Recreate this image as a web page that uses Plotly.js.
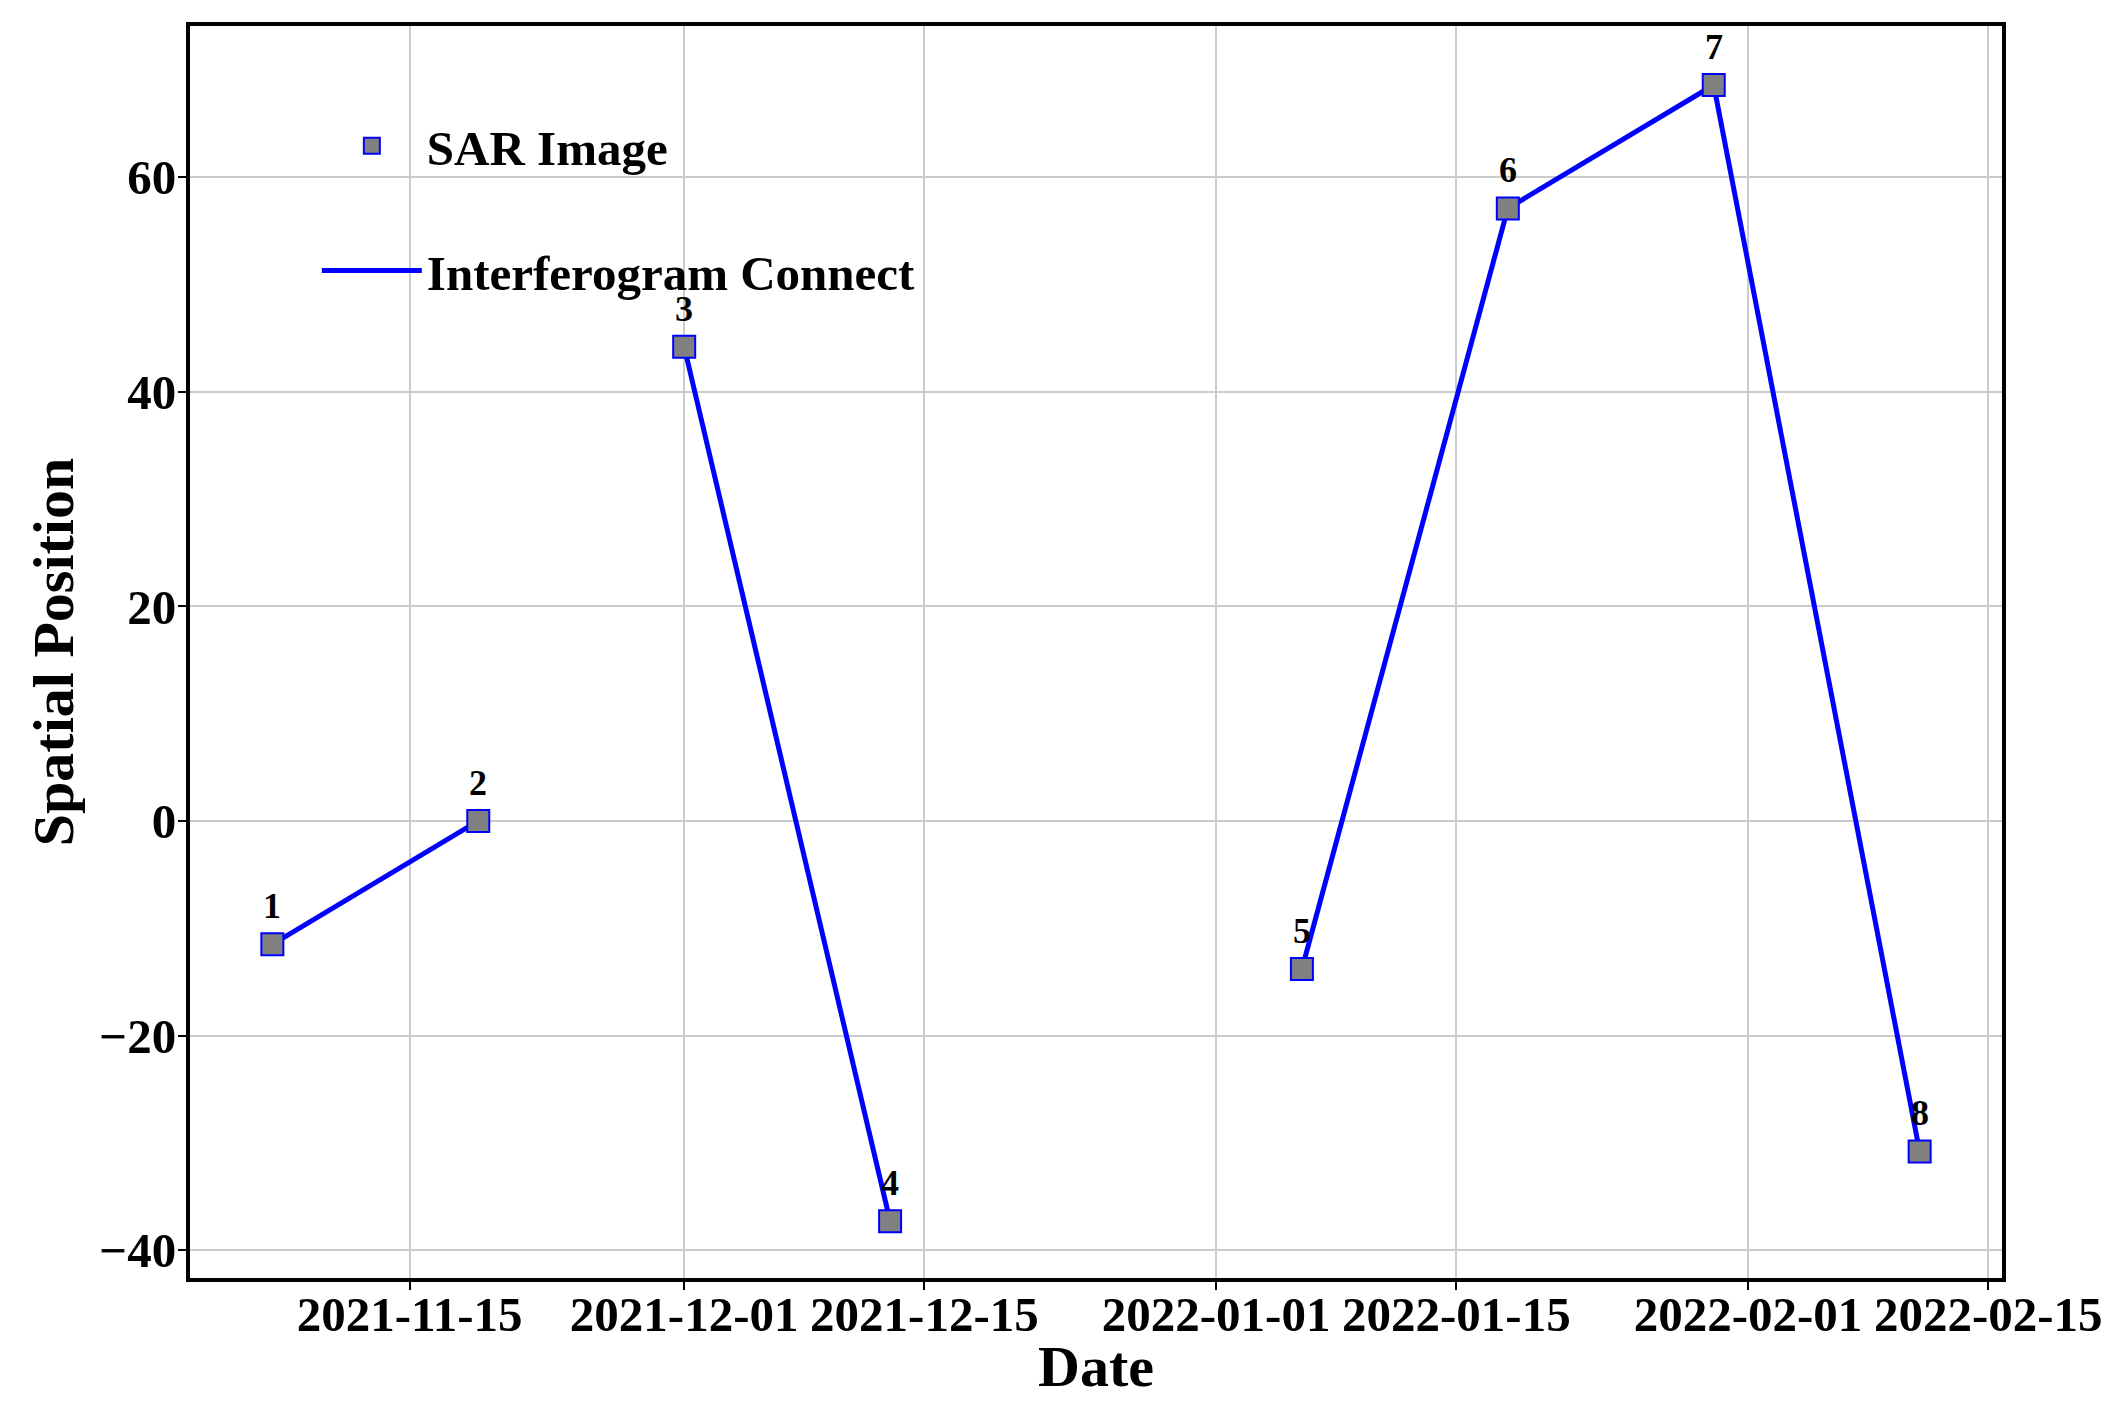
<!DOCTYPE html>
<html><head><meta charset="utf-8">
<script src="https://cdn.plot.ly/plotly-3.0.1.min.js"></script>
<style>html,body{margin:0;padding:0;background:#fff;} #chart{width:2127px;height:1409px;}</style>
</head><body><div id="chart"></div>
<script>
// ---- data ----
const dates = ['2021-11-07','2021-11-19','2021-12-01','2021-12-13','2022-01-06','2022-01-18','2022-01-30','2022-02-11'];
const positions = [-11.5, 0.0, 44.2, -37.3, -13.8, 57.1, 68.6, -30.8];
const imageLabels = ['1','2','3','4','5','6','7','8'];
const connections = [[0,1],[2,3],[4,5],[5,6],[6,7]];
const xTickVals = ['2021-11-15','2021-12-01','2021-12-15','2022-01-01','2022-01-15','2022-02-01','2022-02-15'];
const yTickVals = [-40,-20,0,20,40,60];
const xTitle = 'Date';
const yTitle = 'Spatial Position';

// ---- build connection line from index pairs ----
const lineX = [], lineY = [];
connections.forEach(([a,b]) => { lineX.push(dates[a], dates[b], null); lineY.push(positions[a], positions[b], null); });

const FONT = '"Liberation Serif", "Times New Roman", serif';

const traces = [
  { x: lineX, y: lineY, mode: 'lines', name: 'Interferogram Connect', connectgaps: false,
    line: { color: '#0000ff', width: 5 }, legendgroup: 'g2', legendrank: 2, hoverinfo: 'skip' },
  { x: dates, y: positions, mode: 'markers', name: 'SAR Image',
    marker: { symbol: 'square', size: 22, color: '#808080', line: { color: '#0000ff', width: 2 } },
    legendgroup: 'g1', legendrank: 1 }
];

const labelAnnotations = dates.map((d, i) => ({
  x: d, y: positions[i], xref: 'x', yref: 'y', text: imageLabels[i], showarrow: false,
  yshift: 38, font: { family: FONT, size: 36, color: '#000', weight: 'bold' }
}));
// x-axis title placed as paper annotation (Plotly clamps axis title inside the margin)
labelAnnotations.push({
  x: 0.5, y: -0.071, xref: 'paper', yref: 'paper', xanchor: 'center', yanchor: 'middle',
  text: xTitle, showarrow: false, font: { family: FONT, size: 58, color: '#000', weight: 'bold' }
});

const layout = {
  width: 2127, height: 1409,
  margin: { l: 190, r: 125, t: 26, b: 131 },
  paper_bgcolor: '#fff', plot_bgcolor: '#fff',
  font: { family: FONT, color: '#000', size: 48, weight: 'bold' },
  showlegend: true,
  legend: { x: 0.07, y: 0.935, xanchor: 'left', yanchor: 'top', bgcolor: 'rgba(0,0,0,0)',
    font: { family: FONT, size: 49, color: '#000', weight: 'bold' },
    itemwidth: 100, traceorder: 'grouped', tracegroupgap: 58 },
  annotations: labelAnnotations,
  xaxis: {
    type: 'date', range: ['2021-11-02 04:48', '2022-02-15 19:12'],
    tickmode: 'array', tickvals: xTickVals, ticktext: xTickVals,
    tickfont: { family: FONT, size: 49, weight: 'bold' },
    ticks: 'outside', ticklen: 8, tickwidth: 2, tickcolor: '#000', ticklabelstandoff: -18,
    showgrid: true, gridcolor: '#cccccc', gridwidth: 2,
    showline: true, linecolor: '#000', linewidth: 4, mirror: true, zeroline: false,
    automargin: false
  },
  yaxis: {
    range: [-42.6, 74.1],
    tickmode: 'array', tickvals: yTickVals,
    tickfont: { family: FONT, size: 49, weight: 'bold' },
    ticks: 'outside', ticklen: 8, tickwidth: 2, tickcolor: '#000', ticklabelstandoff: -8,
    showgrid: true, gridcolor: '#cccccc', gridwidth: 2,
    showline: true, linecolor: '#000', linewidth: 4, mirror: true, zeroline: false,
    title: { text: yTitle, font: { family: FONT, size: 58, weight: 'bold' }, standoff: 8 },
    automargin: false
  }
};

Plotly.newPlot('chart', traces, layout, { staticPlot: true, displayModeBar: false });
</script>
</body></html>
